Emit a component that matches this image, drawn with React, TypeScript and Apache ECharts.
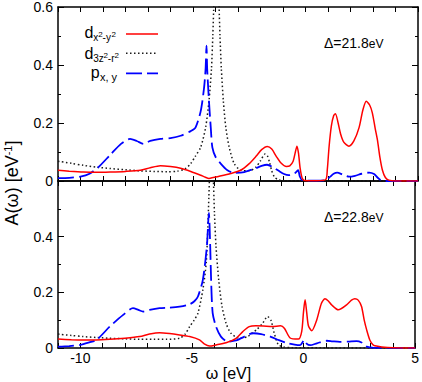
import React, { useEffect, useRef } from "react";
import * as echarts from "echarts";

const FONT = "'Liberation Sans', Arial, Helvetica, sans-serif";

// x range and ticks
const X_MIN = -11;
const X_MAX = 5;
const Y_MAX = 0.6;

// Panel 1 (Δ = 21.8 eV)
const topDx2y2: number[][] = [
  [-11, 0.037], [-10.5, 0.034], [-9.87, 0.031], [-9.3, 0.03], [-8.68, 0.031], [-8, 0.033],
  [-7.34, 0.037], [-6.9, 0.046], [-6.45, 0.053], [-6, 0.05], [-5.55, 0.044], [-5.1, 0.033],
  [-4.66, 0.02], [-4.45, 0.013], [-4.29, 0.009], [-4.1, 0.012], [-3.92, 0.015], [-3.32, 0.026],
  [-2.88, 0.037], [-2.5, 0.06], [-2.2, 0.085], [-1.95, 0.108], [-1.7, 0.119], [-1.5, 0.11],
  [-1.3, 0.085], [-1.1, 0.063], [-0.85, 0.05], [-0.7, 0.052], [-0.55, 0.068], [-0.45, 0.1],
  [-0.38, 0.12], [-0.31, 0.095], [-0.24, 0.045], [-0.15, 0.01], [-0.05, 0.002], [0.5, 0.001],
  [0.9, 0.005], [0.97, 0.04], [1.05, 0.12], [1.15, 0.19], [1.25, 0.225], [1.33, 0.232],
  [1.45, 0.2], [1.56, 0.162], [1.7, 0.134], [1.93, 0.12], [2.15, 0.138], [2.38, 0.184],
  [2.55, 0.245], [2.7, 0.275], [2.85, 0.262], [2.97, 0.235], [3.1, 0.18], [3.2, 0.14],
  [3.3, 0.085], [3.42, 0.037], [3.55, 0.012], [3.7, 0.003], [4, 0], [5, 0],
];
const topD3z2: number[][] = [
  [-11, 0.068], [-10.4, 0.061], [-9.87, 0.054], [-9.3, 0.048], [-8.68, 0.043], [-8, 0.039],
  [-7.34, 0.035], [-6.7, 0.033], [-6.15, 0.032], [-5.7, 0.034], [-5.35, 0.042], [-5.1, 0.06],
  [-4.9, 0.085], [-4.66, 0.116], [-4.44, 0.184], [-4.29, 0.275], [-4.18, 0.387], [-4.12, 0.5],
  [-4.07, 0.62], [-4.01, 0.78], [-3.96, 0.85], [-3.9, 0.78], [-3.84, 0.6], [-3.8, 0.5],
  [-3.74, 0.387], [-3.65, 0.275], [-3.54, 0.184], [-3.39, 0.116], [-3.17, 0.06], [-2.88, 0.037],
  [-2.5, 0.035], [-2.2, 0.048], [-2.0, 0.07], [-1.8, 0.093], [-1.7, 0.088], [-1.6, 0.065],
  [-1.5, 0.035], [-1.38, 0.014], [-1.2, 0.004], [-0.9, 0.001], [5, 0],
];
const topPxy: number[][] = [
  [-11, 0.01], [-10.5, 0.011], [-10, 0.015], [-9.6, 0.025], [-9.2, 0.048], [-8.68, 0.09],
  [-8.2, 0.128], [-7.8, 0.145], [-7.5, 0.138], [-7.2, 0.128], [-6.9, 0.138], [-6.45, 0.145],
  [-6, 0.148], [-5.55, 0.156], [-5.1, 0.172], [-4.89, 0.184], [-4.66, 0.24], [-4.51, 0.32],
  [-4.44, 0.387], [-4.4, 0.467], [-4.37, 0.387], [-4.29, 0.275], [-4.21, 0.184], [-4.14, 0.116],
  [-3.99, 0.082], [-3.77, 0.06], [-3.47, 0.037], [-3.17, 0.028], [-2.72, 0.031], [-2.24, 0.043],
  [-1.95, 0.052], [-1.71, 0.056], [-1.45, 0.048], [-1.19, 0.035], [-0.95, 0.024], [-0.75, 0.02],
  [-0.5, 0.025], [-0.33, 0.037], [-0.25, 0.015], [-0.15, 0.003], [0.5, 0.001], [0.9, 0.003],
  [1.1, 0.015], [1.25, 0.025], [1.41, 0.029], [1.65, 0.022], [1.93, 0.015], [2.2, 0.018],
  [2.5, 0.025], [2.83, 0.029], [3.05, 0.024], [3.2, 0.012], [3.35, 0.003], [3.6, 0], [5, 0],
];

// Panel 2 (Δ = 22.8 eV)
const bottomDx2y2: number[][] = [
  [-11, 0.032], [-10.4, 0.03], [-9.87, 0.029], [-9.3, 0.029], [-8.68, 0.031], [-8, 0.035],
  [-7.34, 0.041], [-6.9, 0.05], [-6.45, 0.055], [-6, 0.052], [-5.55, 0.047], [-5.1, 0.041],
  [-4.66, 0.029], [-4.45, 0.015], [-4.21, 0.007], [-3.92, 0.011], [-3.47, 0.019], [-3.02, 0.035],
  [-2.72, 0.059], [-2.43, 0.077], [-2.13, 0.08], [-1.8, 0.079], [-1.4, 0.077], [-1.03, 0.08],
  [-0.85, 0.07], [-0.6, 0.036], [-0.23, 0.032], [-0.08, 0.06], [0.0, 0.13], [0.07, 0.173],
  [0.14, 0.13], [0.22, 0.08], [0.37, 0.062], [0.59, 0.1], [0.8, 0.16], [0.96, 0.177],
  [1.1, 0.17], [1.26, 0.155], [1.56, 0.137], [1.93, 0.155], [2.15, 0.172], [2.3, 0.177],
  [2.45, 0.172], [2.6, 0.149], [2.72, 0.1], [2.83, 0.065], [2.97, 0.029], [3.1, 0.013],
  [3.2, 0.008], [3.5, 0.004], [4, 0.001], [5, 0],
];
const bottomD3z2: number[][] = [
  [-11, 0.05], [-10.4, 0.045], [-9.87, 0.041], [-9.3, 0.038], [-8.68, 0.035], [-8, 0.033],
  [-7.34, 0.031], [-6.7, 0.031], [-6.15, 0.031], [-5.55, 0.035], [-5.3, 0.05], [-5.1, 0.077],
  [-4.9, 0.1], [-4.73, 0.125], [-4.51, 0.209], [-4.36, 0.305], [-4.29, 0.425], [-4.24, 0.545],
  [-4.21, 0.62], [-4.16, 0.8], [-4.12, 0.88], [-4.08, 0.8], [-4.04, 0.62], [-3.99, 0.485],
  [-3.92, 0.365], [-3.8, 0.245], [-3.65, 0.149], [-3.47, 0.089], [-3.25, 0.053], [-2.88, 0.035],
  [-2.5, 0.041], [-2.28, 0.055], [-2.07, 0.068], [-1.83, 0.089], [-1.61, 0.113], [-1.46, 0.1],
  [-1.31, 0.053], [-1.13, 0.012], [-0.9, 0.004], [-0.5, 0.001], [5, 0],
];
const bottomPxy: number[][] = [
  [-11, 0.005], [-10.5, 0.007], [-10, 0.011], [-9.6, 0.02], [-9.27, 0.029], [-8.68, 0.077],
  [-8.08, 0.119], [-7.64, 0.143], [-7.4, 0.137], [-7.19, 0.131], [-6.9, 0.137], [-6.45, 0.143],
  [-6, 0.145], [-5.55, 0.149], [-5.1, 0.157], [-4.89, 0.168], [-4.73, 0.185], [-4.51, 0.245],
  [-4.33, 0.365], [-4.24, 0.485], [-4.18, 0.365], [-4.14, 0.245], [-4.07, 0.125], [-3.92, 0.077],
  [-3.7, 0.041], [-3.4, 0.023], [-3.02, 0.027], [-2.65, 0.041], [-2.43, 0.05], [-2.24, 0.053],
  [-1.9, 0.05], [-1.49, 0.041], [-1.1, 0.028], [-0.75, 0.018], [-0.4, 0.012], [-0.15, 0.01],
  [0.04, 0.029], [0.15, 0.015], [0.3, 0.01], [0.6, 0.017], [1.04, 0.026], [1.3, 0.024],
  [1.63, 0.022], [2.0, 0.023], [2.38, 0.025], [2.6, 0.02], [2.7, 0.012], [2.83, 0.005],
  [3.1, 0.001], [5, 0],
];

const panelLabels = ["Δ=21.8", "Δ=22.8"];
const RED = "#ff0000";
const BLUE = "#0000ff";
const BLACK = "#000000";
const DOTCOLOR = "#1a1a1a";

function makeXAxis(gridIndex: number, position: "top" | "bottom", showLabel: boolean) {
  return {
    type: "value",
    gridIndex,
    position,
    min: X_MIN,
    max: X_MAX,
    interval: 1,
    axisLine: { show: true, onZero: false, lineStyle: { color: BLACK, width: 1.5 } },
    axisTick: { show: true, inside: true, length: 5, lineStyle: { color: BLACK, width: 1 } },
    axisLabel: {
      show: showLabel,
      margin: 3,
      fontSize: 14,
      fontFamily: FONT,
      color: BLACK,
      formatter: (v: number) => {
        const r = Math.round(v);
        return r % 5 === 0 ? String(r) : "";
      },
    },
    splitLine: { show: false },
  };
}

function makeYAxis(gridIndex: number, position: "left" | "right", showLabel: boolean, hideTop: boolean) {
  return {
    type: "value",
    gridIndex,
    position,
    min: 0,
    max: Y_MAX,
    interval: 0.2,
    axisLine: { show: true, onZero: false, lineStyle: { color: BLACK, width: 1.5 } },
    axisTick: { show: true, inside: true, length: 6, lineStyle: { color: BLACK, width: 1 } },
    minorTick: { show: true, splitNumber: 2, length: 3, lineStyle: { color: BLACK, width: 1 } },
    axisLabel: {
      show: showLabel,
      margin: 5,
      fontSize: 14,
      fontFamily: FONT,
      color: BLACK,
      formatter: (v: number) => {
        if (hideTop && v > 0.55) return "";
        return v === 0 ? "0" : v.toFixed(1);
      },
    },
    splitLine: { show: false },
    minorSplitLine: { show: false },
  };
}

function line(name: string, data: number[][], xi: number, yi: number, color: string, type: any, width: number) {
  return {
    type: "line",
    name,
    data,
    xAxisIndex: xi,
    yAxisIndex: yi,
    symbol: "none",
    showSymbol: false,
    smooth: 0.25,
    clip: true,
    lineStyle: { color, width, type },
  };
}

function txt(text: string, x: number, y: number, size: number) {
  return {
    type: "text",
    x,
    y,
    style: {
      text,
      fontSize: size,
      fontFamily: FONT,
      fill: BLACK,
      align: "left",
      textAlign: "left",
      verticalAlign: "middle",
      textVerticalAlign: "middle",
    },
  };
}

export default function App() {
  const ref = useRef<HTMLDivElement>(null);
  useEffect(() => {
    if (!ref.current) return;
    const chart = echarts.init(ref.current, null, { renderer: "svg" });
    const dots = [1.5, 2.5];
    const dash = [16, 5];
    chart.setOption({
      animation: false,
      backgroundColor: "#ffffff",
      grid: [
        { left: 58, right: 4, top: 5, height: 176 },
        { left: 58, right: 4, top: 181, height: 167 },
      ],
      xAxis: [
        makeXAxis(0, "bottom", false),
        makeXAxis(0, "top", false),
        makeXAxis(1, "bottom", true),
        makeXAxis(1, "top", false),
      ],
      yAxis: [
        makeYAxis(0, "left", true, false),
        makeYAxis(0, "right", false, false),
        makeYAxis(1, "left", true, true),
        makeYAxis(1, "right", false, false),
      ],
      series: [
        line("d3z2-r2 (21.8)", topD3z2, 0, 0, DOTCOLOR, dots, 1.5),
        line("px,y (21.8)", topPxy, 0, 0, BLUE, dash, 1.8),
        line("dx2-y2 (21.8)", topDx2y2, 0, 0, RED, "solid", 1.5),
        line("d3z2-r2 (22.8)", bottomD3z2, 2, 2, DOTCOLOR, dots, 1.5),
        line("px,y (22.8)", bottomPxy, 2, 2, BLUE, dash, 1.8),
        line("dx2-y2 (22.8)", bottomDx2y2, 2, 2, RED, "solid", 1.5),
      ],
      graphic: [
        // y-axis title
        {
          type: "text",
          x: 11.5,
          y: 183,
          rotation: Math.PI / 2,
          style: {
            text: "{a|A(ω) [eV}{s|-1}{a|]}",
            fill: BLACK,
            align: "center",
            textAlign: "center",
            verticalAlign: "middle",
            textVerticalAlign: "middle",
            rich: {
              a: { fontSize: 18, fontFamily: FONT, fill: BLACK },
              s: { fontSize: 11, fontFamily: FONT, fill: BLACK, verticalAlign: "top" },
            },
          },
        },
        // x-axis title
        {
          type: "text",
          x: 228.5,
          y: 373,
          style: {
            text: "ω [eV]",
            fontSize: 16,
            fontFamily: FONT,
            fill: BLACK,
            align: "center",
            textAlign: "center",
            verticalAlign: "middle",
            textVerticalAlign: "middle",
          },
        },
        // panel annotations
        ...[42.5, 216.8].map((yy, i) => ({
          type: "text",
          x: 324,
          y: yy,
          style: {
            text: `{a|${panelLabels[i]}}{b|eV}`,
            fill: BLACK,
            align: "left",
            textAlign: "left",
            verticalAlign: "middle",
            textVerticalAlign: "middle",
            rich: {
              a: { fontSize: 14, fontFamily: FONT, fill: BLACK },
              b: { fontSize: 12, fontFamily: FONT, fill: BLACK, verticalAlign: "bottom" },
            },
          },
        })),
        // legend row 1: d_{x^2-y^2}
        txt("d", 84.4, 32.7, 16),
        txt("x", 93.3, 37.9, 10),
        txt("2", 98.3, 34, 8),
        txt("-y", 102.6, 37.9, 10),
        txt("2", 111.6, 34, 8),
        { type: "line", shape: { x1: 126, y1: 34, x2: 158, y2: 34 }, style: { stroke: RED, lineWidth: 1.5 } },
        // legend row 2: d_{3z^2-r^2}
        txt("d", 84.4, 53.7, 16),
        txt("3z", 93.3, 58.9, 10),
        txt("2", 103.6, 55, 8),
        txt("-r", 107.8, 58.9, 10),
        txt("2", 114.4, 55, 8),
        { type: "line", shape: { x1: 126, y1: 53.3, x2: 158, y2: 53.3 }, style: { stroke: DOTCOLOR, lineWidth: 1.5, lineDash: dots } },
        // legend row 3: p_{x, y}
        txt("p", 90.8, 72.7, 16),
        txt("x, y", 100, 77, 11),
        { type: "line", shape: { x1: 126, y1: 73.3, x2: 158, y2: 73.3 }, style: { stroke: BLUE, lineWidth: 1.8, lineDash: dash } },
      ],
    });
    return () => chart.dispose();
  }, []);
  return (
    <div
      ref={ref}
      style={{ position: "absolute", left: 0, top: 0, width: 422, height: 382, background: "#fff" }}
    />
  );
}
